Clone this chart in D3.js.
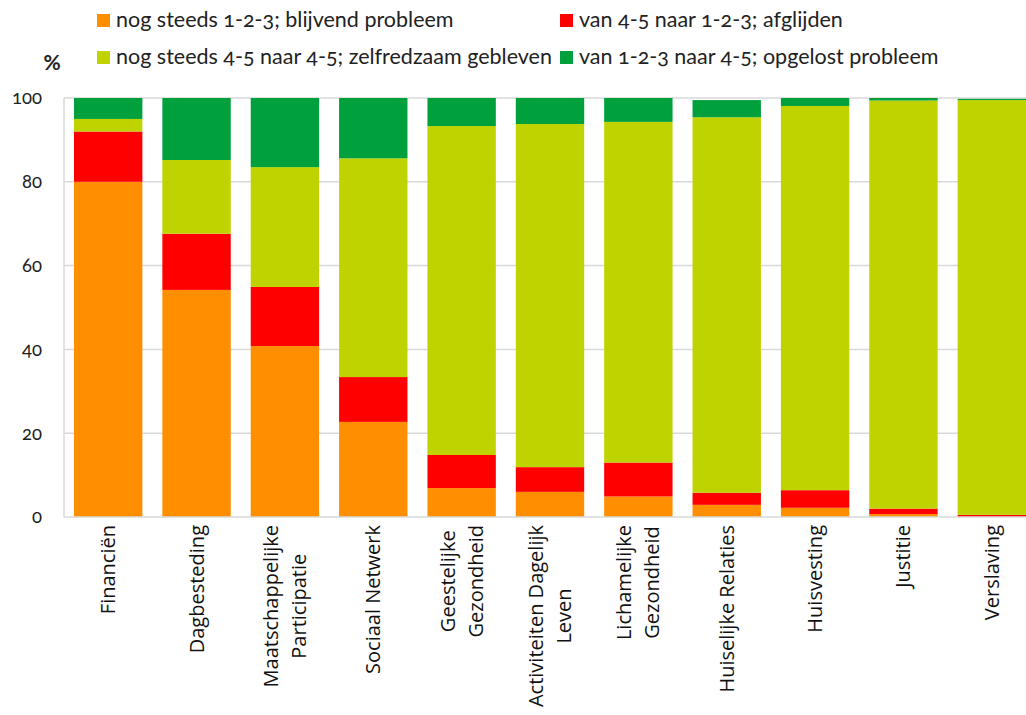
<!DOCTYPE html>
<html><head><meta charset="utf-8">
<script src="https://cdn.jsdelivr.net/npm/d3@7"></script>
<style>
body{margin:0;background:#fff;}
svg{display:block;}
.tick text{font-variant-numeric:oldstyle-nums;}
</style>
</head><body>
<svg id="chart" width="1026" height="715"></svg>
<script>
const categories = ["Financiën","Dagbesteding","Maatschappelijke\nParticipatie","Sociaal Netwerk","Geestelijke\nGezondheid","Activiteiten Dagelijk\nLeven","Lichamelijke\nGezondheid","Huiselijke Relaties","Huisvesting","Justitie","Verslaving"];
const seriesNames = ["nog steeds 1-2-3; blijvend probleem","van 4-5 naar 1-2-3; afglijden","nog steeds 4-5 naar 4-5; zelfredzaam gebleven","van 1-2-3 naar 4-5; opgelost probleem"];
const blijvend   = [80, 54.2, 40.8, 22.7, 6.9, 6.0, 4.9, 2.9, 2.2, 0.7, 0];
const afglijden  = [12, 13.4, 14.1, 10.7, 7.9, 5.9, 8.1, 2.9, 4.2, 1.3, 0.5];
const zelfredzaam= [3, 17.6, 28.6, 52.2, 78.5, 81.9, 81.3, 89.6, 91.7, 97.4, 99.0];
const opgelost   = [5, 14.8, 16.5, 14.4, 6.7, 6.2, 5.7, 4.1, 1.9, 0.6, 0.3];
const yTicks = [0,20,40,60,80,100];
const colors = ["#FF8F00","#FF0000","#BFD300","#00A03C"];

(function(){
const svg = d3.select("#chart");
const mLeft = 64, mRight = 1036, mTop = 98, mBottom = 517;
const x = d3.scaleBand().domain(categories).range([mLeft, mRight]).paddingInner(0.226).paddingOuter(0.113);
const y = d3.scaleLinear().domain([0,100]).range([mBottom, mTop]);

svg.append("g").selectAll("line").data(yTicks.filter(d=>d>0)).join("line")
  .attr("x1", mLeft).attr("x2", mRight).attr("y1", d=>y(d)).attr("y2", d=>y(d))
  .attr("stroke", "#d9d9d9").attr("stroke-width", 1.5);

const rows = categories.map((c,i)=>({cat:c, s0:blijvend[i], s1:afglijden[i], s2:zelfredzaam[i], s3:opgelost[i]}));
const stacked = d3.stack().keys(["s0","s1","s2","s3"])(rows);
svg.append("g").selectAll("g").data(stacked).join("g")
  .attr("fill", (d,i)=>colors[i])
  .selectAll("rect").data(d=>d).join("rect")
  .attr("x", d=>x(d.data.cat)).attr("width", x.bandwidth())
  .attr("y", d=>y(d[1])).attr("height", d=>Math.max(0, y(d[0])-y(d[1])));

svg.append("line").attr("x1", mLeft).attr("x2", mLeft).attr("y1", mTop).attr("y2", mBottom).attr("stroke","#d9d9d9").attr("stroke-width",1.5);
svg.append("line").attr("x1", mLeft).attr("x2", mRight).attr("y1", mBottom).attr("y2", mBottom).attr("stroke","#d9d9d9").attr("stroke-width",1.5);

const yAxis = svg.append("g").attr("transform", `translate(${mLeft},0)`)
  .call(d3.axisLeft(y).tickValues(yTicks).tickSize(0).tickPadding(22));
yAxis.select(".domain").remove();
yAxis.selectAll("text").attr("font-family","Lato, 'Open Sans', sans-serif").attr("font-size",18.5).attr("fill","#222");

svg.append("text").attr("x", 52).attr("y", 70).attr("text-anchor","middle")
  .attr("font-family","Lato, 'Open Sans', sans-serif").attr("font-weight","bold").attr("font-size",21).attr("fill","#222").text("%");

const xl = svg.append("g");
categories.forEach(c=>{
  const lines = c.split("\n");
  const cx = x(c) + x.bandwidth()/2;
  const g = xl.append("g").attr("transform", `translate(${cx},525) rotate(-90)`);
  const lh = 28;
  const texts = lines.map((ln,i)=> g.append("text")
      .attr("font-family","'Open Sans', sans-serif").attr("font-size",20).attr("fill","#111")
      .attr("text-anchor","middle")
      .attr("y", (i - (lines.length-1)/2)*lh + 7)
      .text(ln));
  const maxW = d3.max(texts, t=>t.node().getComputedTextLength());
  texts.forEach(t=>t.attr("x", -maxW/2));
});

const legPos = [[97,14],[560,14],[97,51],[560,51]];
const lg = svg.append("g");
seriesNames.forEach((n,i)=>{
  const [lx,ly] = legPos[i];
  lg.append("rect").attr("x",lx).attr("y",ly).attr("width",13).attr("height",13).attr("fill",colors[i]);
  lg.append("text").attr("x",lx+19).attr("y",ly+13)
    .attr("font-family","Lato, 'Open Sans', sans-serif").attr("font-size",21.5).attr("fill","#222")
    .style("font-variant-numeric","oldstyle-nums")
    .text(n);
});
})();
</script>
</body></html>
